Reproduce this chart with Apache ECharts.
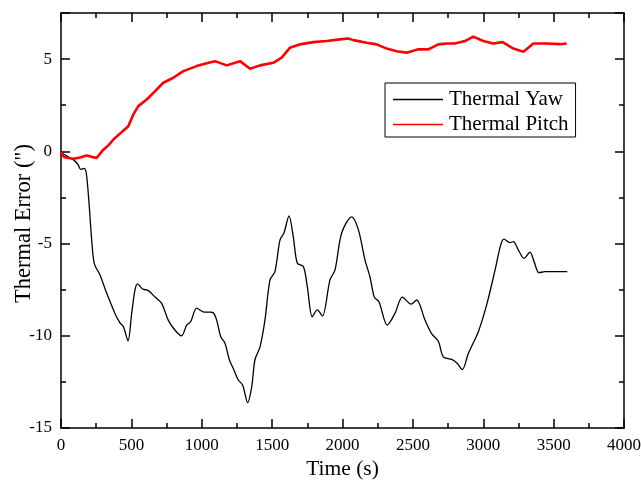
<!DOCTYPE html>
<html>
<head>
<meta charset="utf-8">
<script src="https://cdn.jsdelivr.net/npm/echarts@6/dist/echarts.min.js"></script>
<style>html,body{margin:0;padding:0;background:#fff;}#c{width:641px;height:484px;}</style>
</head>
<body>
<div id="c"></div>
<script>
const xTicks = [0, 500, 1000, 1500, 2000, 2500, 3000, 3500, 4000];
const yTicks = [-15, -10, -5, 0, 5];

const yawTime = [0,30,87,120,140,163,180,201,218,237,277,325,384,419,443,476,502,526,545,580,621,668,715,762,810,857,893,921,964,1011,1059,1082,1106,1135,1165,1196,1224,1260,1291,1326,1355,1378,1414,1449,1485,1520,1556,1584,1620,1650,1679,1722,1750,1785,1821,1857,1911,1947,1994,2065,2113,2160,2195,2226,2259,2318,2373,2425,2487,2527,2586,2634,2681,2716,2776,2816,2851,2894,2965,3025,3084,3124,3147,3190,3214,3249,3290,3332,3361,3396,3439,3597];
const yawValue = [-0.05,-0.2,-0.45,-0.7,-0.98,-0.92,-1.2,-3.0,-4.8,-6.1,-6.7,-7.7,-8.8,-9.3,-9.5,-10.27,-8.8,-7.5,-7.19,-7.46,-7.55,-7.9,-8.24,-9.15,-9.7,-10.0,-9.42,-9.24,-8.5,-8.7,-8.72,-8.75,-9.15,-10.05,-10.4,-11.3,-11.77,-12.4,-12.68,-13.62,-12.77,-11.3,-10.6,-9.15,-6.97,-6.52,-4.8,-4.43,-3.5,-4.62,-6.07,-6.25,-7.34,-8.97,-8.6,-8.93,-6.97,-6.43,-4.43,-3.55,-4.26,-5.9,-6.8,-7.9,-8.15,-9.42,-8.78,-7.9,-8.28,-8.06,-9.15,-9.9,-10.3,-11.14,-11.28,-11.5,-11.83,-10.96,-9.78,-8.3,-6.43,-5.07,-4.76,-4.95,-4.89,-5.34,-5.8,-5.47,-5.98,-6.58,-6.52,-6.52];

const pitchTime = [0,20,52,90,135,182,220,253,301,340,372,419,478,514,549,609,656,727,798,869,964,1035,1094,1177,1272,1343,1414,1508,1568,1627,1698,1793,1888,1982,2041,2077,2172,2243,2314,2385,2456,2539,2610,2681,2740,2799,2870,2929,3000,3071,3138,3214,3285,3320,3356,3451,3545,3593];
const pitchValue = [-0.05,-0.3,-0.36,-0.4,-0.33,-0.23,-0.3,-0.36,0.09,0.35,0.64,0.96,1.36,2.0,2.45,2.81,3.17,3.72,3.99,4.35,4.62,4.77,4.89,4.66,4.89,4.48,4.66,4.8,5.08,5.62,5.8,5.92,5.98,6.07,6.12,6.03,5.89,5.8,5.57,5.43,5.35,5.53,5.53,5.8,5.85,5.85,5.98,6.22,5.98,5.85,5.92,5.57,5.4,5.62,5.85,5.85,5.81,5.85];

const yawData = yawTime.map((t, i) => [t, yawValue[i]]);
const pitchData = pitchTime.map((t, i) => [t, pitchValue[i]]);

const FONT = '"Liberation Serif", "Times New Roman", serif';
const axisLine = {show: true, onZero: false, lineStyle: {color: '#000', width: 1.5}};
const axisTick = {show: true, inside: true, length: 9, lineStyle: {color: '#000', width: 1.5}};
const minorTick = {show: true, splitNumber: 2, length: 5, lineStyle: {color: '#000', width: 1.5}};
const plain = v => String(v);

const chart = echarts.init(document.getElementById('c'), null, {renderer: 'canvas'});
chart.setOption({
  backgroundColor: '#fff',
  animation: false,
  grid: {left: 61, right: 17, top: 13, bottom: 56, containLabel: false, outerBoundsMode: 'none'},
  legend: {
    orient: 'vertical',
    left: 385, top: 83,
    padding: [6, 7, 2, 8],
    itemGap: 4,
    itemWidth: 50, itemHeight: 1.4,
    icon: 'rect',
    borderColor: '#000', borderWidth: 1,
    backgroundColor: '#fff',
    textStyle: {fontFamily: FONT, fontSize: 21, color: '#000', padding: [0, 0, 0, 1]},
    data: ['Thermal Yaw', 'Thermal Pitch']
  },
  xAxis: [{
    type: 'value', min: xTicks[0], max: xTicks[xTicks.length - 1], interval: 500,
    position: 'bottom',
    name: 'Time (s)', nameLocation: 'middle', nameGap: 30, nameMoveOverlap: false,
    nameTextStyle: {fontFamily: FONT, fontSize: 21.5, color: '#000'},
    axisLine, axisTick, minorTick,
    splitLine: {show: false},
    axisLabel: {fontFamily: FONT, fontSize: 17, color: '#000', margin: 9, formatter: plain}
  }, {
    type: 'value', min: xTicks[0], max: xTicks[xTicks.length - 1], interval: 500,
    position: 'top',
    axisLine, axisTick, minorTick,
    splitLine: {show: false},
    axisLabel: {show: false}
  }],
  yAxis: [{
    type: 'value', min: yTicks[0], max: 7.5, interval: 5,
    position: 'left',
    name: 'Thermal Error (")', nameLocation: 'middle', nameGap: 25, nameMoveOverlap: false,
    nameTextStyle: {fontFamily: FONT, fontSize: 22.5, color: '#000', padding: [0, 6, 0, 0]},
    axisLine, axisTick, minorTick,
    splitLine: {show: false},
    axisLabel: {fontFamily: FONT, fontSize: 17, color: '#000', margin: 9, showMaxLabel: false, formatter: plain}
  }, {
    type: 'value', min: yTicks[0], max: 7.5, interval: 5,
    position: 'right',
    axisLine, axisTick, minorTick,
    splitLine: {show: false},
    axisLabel: {show: false}
  }],
  series: [{
    name: 'Thermal Yaw', type: 'line', data: yawData,
    xAxisIndex: 0, yAxisIndex: 0,
    showSymbol: false, symbol: 'none', smooth: 0.3,
    lineStyle: {color: '#000', width: 1.3},
    itemStyle: {color: '#000'}
  }, {
    name: 'Thermal Pitch', type: 'line', data: pitchData,
    xAxisIndex: 0, yAxisIndex: 0,
    showSymbol: false, symbol: 'none',
    lineStyle: {color: '#ff0000', width: 2.6},
    itemStyle: {color: '#ff0000'}
  }]
});
</script>
</body>
</html>
